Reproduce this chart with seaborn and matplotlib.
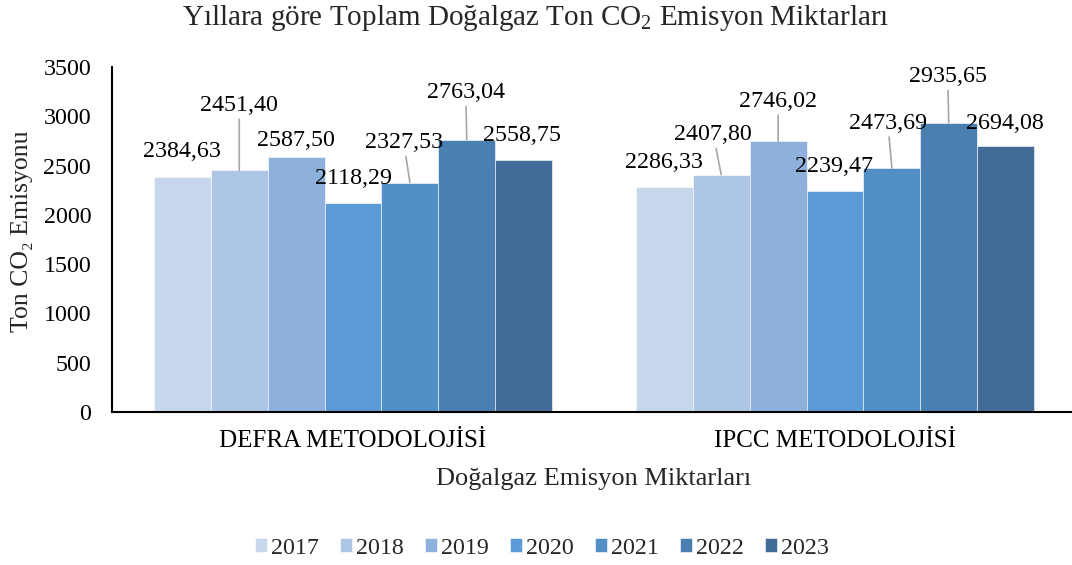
import pandas as pd
import seaborn as sns
import matplotlib.pyplot as plt

methods = ["DEFRA METODOLOJİSİ", "IPCC METODOLOJİSİ"]
years = ["2017", "2018", "2019", "2020", "2021", "2022", "2023"]
defra_values = [2384.63, 2451.40, 2587.50, 2118.29, 2327.53, 2763.04, 2558.75]
ipcc_values = [2286.33, 2407.80, 2746.02, 2239.47, 2473.69, 2935.65, 2694.08]
y_ticks = [0, 500, 1000, 1500, 2000, 2500, 3000, 3500]

colors = ["#C6D6EB", "#AEC6E5", "#8DB1DC", "#5B9BD5", "#5190C6", "#4A7FB2", "#426C98"]

# label offsets in pixels from the bar top (dx, dy, leader line)
label_offsets = [
    [(0, 25, False), (0, 65, True), (0, 16, False), (0, 25, False),
     (-6, 40, True), (-1, 47, True), (-2, 24, False)],
    [(0, 24, False), (-8, 40, True), (0, 40, True), (-1, 25, False),
     (-4, 45, True), (-1, 46, True), (-1, 23, False)],
]

df = pd.DataFrame({
    "method": [m for m in methods for _ in years],
    "year": years * len(methods),
    "value": defra_values + ipcc_values,
})

sns.set_style("white")
plt.rcParams["font.family"] = ["Liberation Serif", "DejaVu Serif"]
plt.rcParams["mathtext.fontset"] = "custom"
plt.rcParams["mathtext.rm"] = "Liberation Serif"

fig = plt.figure(figsize=(10.72, 5.65), dpi=100)
ax = fig.add_axes([112 / 1072, 1 - 412 / 565, 964 / 1072, 345 / 565])

sns.barplot(data=df, x="method", y="value", hue="year", palette=colors,
            width=0.826, gap=0, saturation=1, edgecolor="white", linewidth=0.4,
            ax=ax)

# data labels
for i, cont in enumerate(ax.containers):
    for j, bar in enumerate(cont):
        val = bar.get_height()
        dx, dy, leader = label_offsets[j][i]
        x = bar.get_x() + bar.get_width() / 2
        arrow = dict(arrowstyle="-", color="#A6A6A6", lw=1.2, shrinkA=0, shrinkB=0) if leader else None
        ax.annotate(f"{val:.2f}".replace(".", ","), xy=(x, val), xytext=(dx, dy),
                    textcoords="offset pixels", ha="center", va="center",
                    fontsize=17.3, color="black", arrowprops=arrow)

ax.set_ylim(0, 3500)
ax.set_yticks(y_ticks)
ax.set_xlim(-0.5, 1.5)
ax.tick_params(axis="y", length=0, labelsize=17.3, colors="black", pad=15)
ax.tick_params(axis="x", length=0, labelsize=18, colors="black", pad=13)

sns.despine(ax=ax)
for side in ["left", "bottom"]:
    ax.spines[side].set_color("black")
    ax.spines[side].set_linewidth(1.5)

ax.set_xlabel("Doğalgaz Emisyon Miktarları", fontsize=19)
ax.xaxis.set_label_coords(0.5, (412 - 479) / 345)
ax.xaxis.label.set_va("center")
ax.set_ylabel("Ton CO₂ Emisyonu", fontsize=18.5)
ax.yaxis.set_label_coords((22 - 112) / 964, (412 - 231) / 345)
ax.yaxis.label.set_va("center")

fig.suptitle("Yıllara göre Toplam Doğalgaz Ton CO$_2$ Emisyon Miktarları",
             x=0.5, y=1 - 18 / 565, va="center", fontsize=21)

handles, labels = ax.get_legend_handles_labels()
ax.get_legend().remove()
fig.legend(handles, labels, loc="center", bbox_to_anchor=(542 / 1072, 1 - 548 / 565),
           ncol=7, frameon=False, fontsize=17.3, handlelength=0.5, handleheight=0.5,
           handletextpad=0.17, columnspacing=0.88)

plt.savefig("out.png", dpi=100)
